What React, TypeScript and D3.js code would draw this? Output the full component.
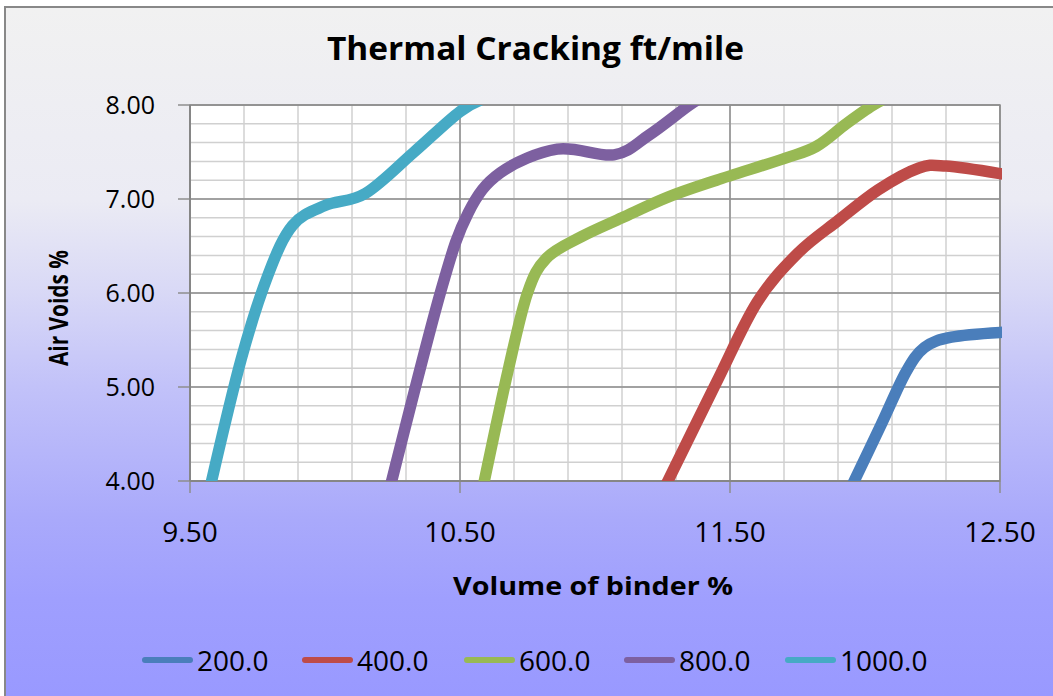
import React from "react";
import * as d3 from "d3";

// Thermal cracking threshold curves: volume of binder (%) vs air voids (%)
const seriesNames = ["200.0", "400.0", "600.0", "800.0", "1000.0"];
const seriesColors = ["#4A7EBB", "#BE4B48", "#98B954", "#7D60A0", "#46AAC5"];

const crack200: [number, number][] = [
  [11.96, 4.0], [12.06, 4.6], [12.15, 5.15], [12.22, 5.42], [12.32, 5.53], [12.5, 5.58],
];
const crack400: [number, number][] = [
  [11.27, 4.0], [11.45, 5.05], [11.6, 5.9], [11.75, 6.42], [11.9, 6.77],
  [12.05, 7.1], [12.2, 7.33], [12.3, 7.35], [12.5, 7.27],
];
const crack600: [number, number][] = [
  [10.59, 4.0], [10.68, 5.2], [10.75, 6.0], [10.82, 6.37], [10.95, 6.6],
  [11.1, 6.8], [11.27, 7.02], [11.45, 7.2], [11.7, 7.43], [11.82, 7.56],
  [11.93, 7.8], [12.03, 8.0], [12.1, 8.1],
];
const crack800: [number, number][] = [
  [10.247, 4.0], [10.43, 6.03], [10.53, 6.85], [10.65, 7.28], [10.86, 7.53],
  [11.07, 7.47], [11.2, 7.68], [11.35, 8.0], [11.42, 8.12],
];
const crack1000: [number, number][] = [
  [9.58, 4.0], [9.69, 5.3], [9.79, 6.2], [9.88, 6.72], [10.0, 6.93],
  [10.15, 7.06], [10.33, 7.5], [10.5, 7.93], [10.6, 8.08],
];
const seriesData = [crack200, crack400, crack600, crack800, crack1000];

const xTicks = [9.5, 10.5, 11.5, 12.5];
const yTicks = [4, 5, 6, 7, 8];
const xMinor = d3.range(0, 16).map((i) => 9.5 + i * 0.2);
const yMinor = d3.range(0, 21).map((i) => 4 + i * 0.2);

const W = 1053;
const H = 696;
const plot = { left: 190, right: 1000, top: 105, bottom: 481 };

export default function App() {
  const x = d3.scaleLinear().domain([9.5, 12.5]).range([plot.left, plot.right]);
  const y = d3.scaleLinear().domain([4, 8]).range([plot.bottom, plot.top]);
  const line = d3
    .line<[number, number]>()
    .x((d) => x(d[0]))
    .y((d) => y(d[1]))
    .curve(d3.curveCardinal.tension(0));

  const font = "'Open Sans', 'DejaVu Sans', sans-serif";
  const legendX = [145, 305, 467, 627, 788];

  return (
    <svg
      width={W}
      height={H}
      style={{ position: "absolute", left: 0, top: 0, display: "block" }}
      fontFamily={font}
    >
      <defs>
        <linearGradient id="chartBg" gradientUnits="userSpaceOnUse" x1="0" y1="7" x2="0" y2="696">
          <stop offset="0" stopColor="#F1F1F1" />
          <stop offset="0.28" stopColor="#EBEBF4" />
          <stop offset="0.41" stopColor="#D9D9F6" />
          <stop offset="0.55" stopColor="#C2C2F9" />
          <stop offset="0.745" stopColor="#A9A9FB" />
          <stop offset="0.86" stopColor="#9F9FFE" />
          <stop offset="1" stopColor="#9999FF" />
        </linearGradient>
        <clipPath id="plotClip">
          <rect x={plot.left} y={plot.top} width={plot.right - plot.left + 2} height={plot.bottom - plot.top} />
        </clipPath>
      </defs>

      <rect x={0} y={0} width={W} height={H} fill="#ffffff" />
      <rect x={5} y={7} width={W + 20} height={H + 20} fill="url(#chartBg)" stroke="#888888" strokeWidth={2} />

      <text x={535.5} y={60} textAnchor="middle" fontSize={32} fontWeight="bold" textLength={417} lengthAdjust="spacingAndGlyphs" fill="#000">
        Thermal Cracking ft/mile
      </text>

      {/* plot area */}
      <rect x={plot.left} y={plot.top} width={plot.right - plot.left} height={plot.bottom - plot.top} fill="#ffffff" />

      {xMinor.map((v, i) => (
        <line key={"xm" + i} x1={x(v)} x2={x(v)} y1={plot.top} y2={plot.bottom} stroke="#D0D0D0" strokeWidth={1.5} />
      ))}
      {yMinor.map((v, i) => (
        <line key={"ym" + i} x1={plot.left} x2={plot.right} y1={y(v)} y2={y(v)} stroke="#D0D0D0" strokeWidth={1.5} />
      ))}
      {xTicks.map((v, i) => (
        <line key={"xM" + i} x1={x(v)} x2={x(v)} y1={plot.top} y2={plot.bottom + 12} stroke="#8E8E8E" strokeWidth={1.5} />
      ))}
      {yTicks.map((v, i) => (
        <line key={"yM" + i} x1={plot.left - 12} x2={plot.right} y1={y(v)} y2={y(v)} stroke="#8E8E8E" strokeWidth={1.5} />
      ))}
      <rect x={plot.left} y={plot.top} width={plot.right - plot.left} height={plot.bottom - plot.top} fill="none" stroke="#8E8E8E" strokeWidth={1.5} />
      <line x1={plot.left} x2={plot.left} y1={plot.top} y2={plot.bottom} stroke="#868686" strokeWidth={2} />
      <line x1={plot.left} x2={plot.right} y1={plot.bottom} y2={plot.bottom} stroke="#868686" strokeWidth={2} />

      <g clipPath="url(#plotClip)">
        {seriesData.map((s, i) => (
          <path key={"s" + i} d={line(s) ?? ""} fill="none" stroke={seriesColors[i]} strokeWidth={11.5} strokeLinecap="square" strokeLinejoin="round" />
        ))}
      </g>

      {yTicks.map((v, i) => (
        <text key={"yl" + i} x={155} y={y(v) + 9} textAnchor="end" fontSize={25} fill="#000">
          {v.toFixed(2)}
        </text>
      ))}
      {xTicks.map((v, i) => (
        <text key={"xl" + i} x={x(v)} y={542} textAnchor="middle" fontSize={28} fill="#000">
          {v.toFixed(2)}
        </text>
      ))}

      <text x={593} y={595} textAnchor="middle" fontSize={25} fontWeight="bold" textLength={280} lengthAdjust="spacingAndGlyphs" fill="#000">
        Volume of binder %
      </text>
      <text transform="translate(68,308) rotate(-90)" textAnchor="middle" fontSize={27} fontWeight="bold" textLength={116} lengthAdjust="spacingAndGlyphs" fill="#000">
        Air Voids %
      </text>

      {seriesNames.map((n, i) => (
        <g key={"lg" + i}>
          <line x1={legendX[i]} x2={legendX[i] + 45} y1={660} y2={660} stroke={seriesColors[i]} strokeWidth={6} strokeLinecap="round" />
          <text x={legendX[i] + 52} y={670.5} fontSize={28} fill="#000">
            {n}
          </text>
        </g>
      ))}
    </svg>
  );
}
